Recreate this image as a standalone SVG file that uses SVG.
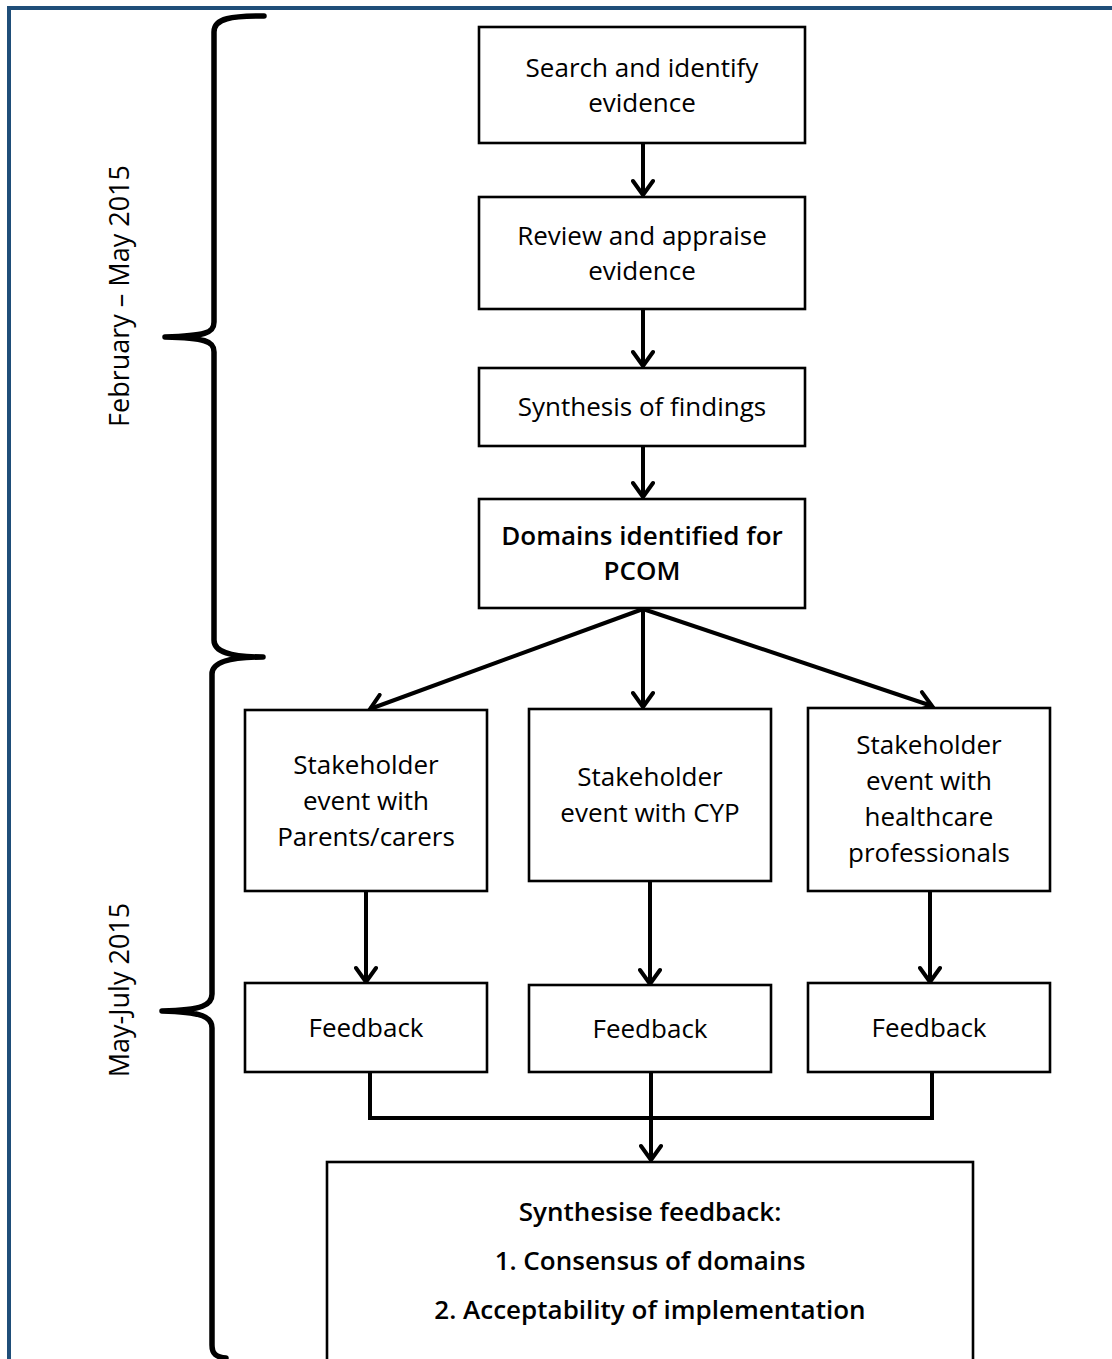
<svg xmlns="http://www.w3.org/2000/svg" width="1112" height="1359" viewBox="0 0 1112 1359">
<defs>
<marker id="ah" viewBox="0 0 24 24" refX="21" refY="12" markerWidth="24" markerHeight="24" markerUnits="userSpaceOnUse" orient="auto">
<path d="M7,2 L21,12 L7,22" fill="none" stroke="#000" stroke-width="4" stroke-linecap="round" stroke-linejoin="miter"/>
</marker>
<style>
.box{fill:#fff;stroke:#000;stroke-width:2.6}
.t{font-family:"Open Sans","Liberation Sans",sans-serif;font-size:26px;fill:#000;text-anchor:middle}
.b{font-weight:600}
.c{fill:none;stroke:#000;stroke-width:4}
.br{fill:none;stroke:#000;stroke-width:5.5;stroke-linecap:round;stroke-linejoin:round}
.lab{font-family:"Open Sans","Liberation Sans",sans-serif;font-size:27px;fill:#000;text-anchor:middle}
</style>
</defs>
<rect x="0" y="0" width="1112" height="1359" fill="#fff"/>
<rect x="9" y="8" width="1200" height="1400" fill="none" stroke="#1f4e79" stroke-width="4"/>

<g id="braces">
<path class="br" d="M264,16 C232,16 214,18 214,32 L214,322 C214,333 205,336 165,337 C205,338 214,341 214,352 L214,640 C214,652 230,657 263,657 C230,657 212,662 212,674 L212,994 C212,1005 203,1010 162,1011 C203,1012 212,1017 212,1028 L212,1345 C212,1354 216,1357 226,1358"/>
</g>
<g id="labels">
<text class="lab" transform="translate(129,296) rotate(-90)">February – May 2015</text>
<text class="lab" transform="translate(129,990) rotate(-90)">May-July 2015</text>
</g>

<g id="connectors">
<line class="c" x1="643" y1="143" x2="643" y2="195" marker-end="url(#ah)"/>
<line class="c" x1="643" y1="309" x2="643" y2="366" marker-end="url(#ah)"/>
<line class="c" x1="643" y1="446" x2="643" y2="497" marker-end="url(#ah)"/>
<line class="c" x1="643" y1="609" x2="370" y2="709" marker-end="url(#ah)"/>
<line class="c" x1="643" y1="609" x2="643" y2="707" marker-end="url(#ah)"/>
<line class="c" x1="643" y1="609" x2="932" y2="706" marker-end="url(#ah)"/>
<line class="c" x1="366" y1="891" x2="366" y2="982" marker-end="url(#ah)"/>
<line class="c" x1="650" y1="881" x2="650" y2="984" marker-end="url(#ah)"/>
<line class="c" x1="930" y1="891" x2="930" y2="982" marker-end="url(#ah)"/>
<path class="c" d="M370,1072 L370,1118 L932,1118 L932,1072"/>
<line class="c" x1="651" y1="1072" x2="651" y2="1160" marker-end="url(#ah)"/>
</g>

<g id="n1"><rect class="box" x="479" y="27" width="326" height="116"/>
<text class="t" x="642" y="77">Search and identify</text><text class="t" x="642" y="112">evidence</text></g>
<g id="n2"><rect class="box" x="479" y="197" width="326" height="112"/>
<text class="t" x="642" y="245">Review and appraise</text><text class="t" x="642" y="280">evidence</text></g>
<g id="n3"><rect class="box" x="479" y="368" width="326" height="78"/>
<text class="t" x="642" y="416">Synthesis of findings</text></g>
<g id="n4"><rect class="box" x="479" y="499" width="326" height="109"/>
<text class="t b" x="642" y="545">Domains identified for</text><text class="t b" x="642" y="580">PCOM</text></g>
<g id="n5"><rect class="box" x="245" y="710" width="242" height="181"/>
<text class="t" x="366" y="774">Stakeholder</text><text class="t" x="366" y="810">event with</text><text class="t" x="366" y="846">Parents/carers</text></g>
<g id="n6"><rect class="box" x="529" y="709" width="242" height="172"/>
<text class="t" x="650" y="786">Stakeholder</text><text class="t" x="650" y="822">event with CYP</text></g>
<g id="n7"><rect class="box" x="808" y="708" width="242" height="183"/>
<text class="t" x="929" y="754">Stakeholder</text><text class="t" x="929" y="790">event with</text><text class="t" x="929" y="826">healthcare</text><text class="t" x="929" y="862">professionals</text></g>
<g id="n8"><rect class="box" x="245" y="983" width="242" height="89"/>
<text class="t" x="366" y="1037">Feedback</text></g>
<g id="n9"><rect class="box" x="529" y="985" width="242" height="87"/>
<text class="t" x="650" y="1038">Feedback</text></g>
<g id="n10"><rect class="box" x="808" y="983" width="242" height="89"/>
<text class="t" x="929" y="1037">Feedback</text></g>
<g id="n11"><rect class="box" x="327" y="1162" width="646" height="210"/>
<text class="t b" x="650" y="1221">Synthesise feedback:</text><text class="t b" x="650" y="1270">1. Consensus of domains</text><text class="t b" x="650" y="1319">2. Acceptability of implementation</text></g>
</svg>
